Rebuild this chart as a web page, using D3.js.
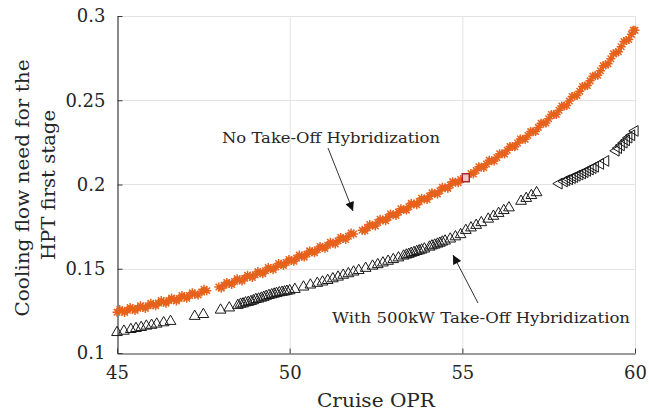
<!DOCTYPE html>
<html>
<head>
<meta charset="utf-8">
<script src="https://cdn.jsdelivr.net/npm/d3@7"></script>
<style>
  html, body { margin: 0; padding: 0; background: #fff; }
  svg { display: block; }
  text { font-family: "DejaVu Serif", "Liberation Serif", serif; fill: #262626; }
</style>
</head>
<body>
<svg id="chart" width="649" height="411"></svg>
<script>
// Cruise OPR vs. cooling flow needed for the first HPT stage
const xTicks = [45, 50, 55, 60];
const yTicks = [0.1, 0.15, 0.2, 0.25, 0.3];
const yTickLabels = ["0.1", "0.15", "0.2", "0.25", "0.3"];

// No take-off hybridization (orange asterisks)
const noHybOPR = [45.00, 45.15, 45.30, 45.45, 45.60, 45.75, 45.90, 46.05, 46.20, 46.35, 46.50, 46.65, 46.80, 46.95,
  47.10, 47.25, 47.45, 47.60, 47.95, 48.10, 48.25, 48.40, 48.55, 48.70, 48.85, 49.00, 49.15, 49.30, 49.45, 49.60,
  49.75, 49.90, 50.05, 50.20, 50.35, 50.50, 50.65, 50.80, 50.95, 51.10, 51.25, 51.40, 51.55, 51.70, 51.85, 52.10,
  52.25, 52.40, 52.55, 52.70, 52.85, 53.00, 53.15, 53.30, 53.45, 53.60, 53.75, 53.90, 54.05, 54.20, 54.35, 54.50,
  54.65, 54.80, 54.95, 55.25, 55.40, 55.55, 55.70, 55.85, 56.00, 56.15, 56.30, 56.45, 56.60, 56.75, 56.90,
  57.05, 57.20, 57.35, 57.50, 57.65, 57.80, 57.95, 58.10, 58.25, 58.40, 58.55, 58.70, 58.85, 59.00, 59.15, 59.30,
  59.45, 59.60, 59.75, 59.90, 60.00,
  45.08, 45.22, 45.38, 45.52, 45.68, 45.82, 45.98, 46.12, 46.28, 46.42, 46.58, 46.72, 46.88, 47.02, 47.18, 47.35,
  47.52, 48.02, 48.18, 48.32, 48.48, 48.62, 48.78, 48.92, 49.08, 49.22, 49.38, 49.52, 49.68, 49.82, 49.98, 50.12,
  50.28, 50.42, 50.58, 50.72, 50.88, 51.02, 51.18, 51.32, 51.48, 51.62, 51.78, 52.18, 52.32, 52.48, 52.62, 52.78,
  52.92, 53.08, 53.22, 53.38, 53.52, 53.68, 53.82, 53.98, 54.12, 54.28, 54.42, 54.58, 54.72, 54.88, 55.32, 55.48,
  55.62, 55.78, 55.92, 56.08, 56.22, 56.38, 56.52, 56.68, 56.82, 56.98, 57.12, 57.28, 57.42, 57.58, 57.72, 57.88,
  58.02, 58.18, 58.32, 58.48, 58.62, 58.78, 58.92, 59.08, 59.22, 59.38, 59.52, 59.68, 59.82, 59.95];
const noHybFlow = [0.1242, 0.1250, 0.1254, 0.1262, 0.1266, 0.1272, 0.1280, 0.1286, 0.1297, 0.1302, 0.1311, 0.1318, 0.1324, 0.1333,
  0.1341, 0.1349, 0.1362, 0.1370, 0.1392, 0.1402, 0.1412, 0.1424, 0.1434, 0.1444, 0.1455, 0.1465, 0.1477, 0.1488, 0.1501, 0.1511,
  0.1526, 0.1537, 0.1549, 0.1563, 0.1575, 0.1587, 0.1601, 0.1613, 0.1626, 0.1639, 0.1651, 0.1666, 0.1679, 0.1693, 0.1706, 0.1729,
  0.1744, 0.1758, 0.1774, 0.1789, 0.1805, 0.1820, 0.1836, 0.1851, 0.1868, 0.1884, 0.1899, 0.1914, 0.1931, 0.1947, 0.1963, 0.1980,
  0.1997, 0.2013, 0.2030, 0.2065, 0.2083, 0.2103, 0.2122, 0.2141, 0.2160, 0.2182, 0.2203, 0.2225, 0.2246, 0.2269, 0.2291,
  0.2313, 0.2339, 0.2364, 0.2390, 0.2415, 0.2441, 0.2466, 0.2495, 0.2525, 0.2554, 0.2585, 0.2615, 0.2645, 0.2675, 0.2710, 0.2746,
  0.2782, 0.2818, 0.2855, 0.2891, 0.2915,
  0.1258, 0.1240, 0.1270, 0.1252, 0.1281, 0.1264, 0.1295, 0.1280, 0.1312, 0.1295, 0.1327, 0.1309, 0.1341, 0.1325, 0.1357, 0.1344,
  0.1378, 0.1385, 0.1419, 0.1406, 0.1441, 0.1427, 0.1462, 0.1448, 0.1483, 0.1471, 0.1507, 0.1494, 0.1531, 0.1520, 0.1555, 0.1544,
  0.1581, 0.1569, 0.1606, 0.1595, 0.1632, 0.1621, 0.1657, 0.1647, 0.1685, 0.1674, 0.1712, 0.1725, 0.1763, 0.1754, 0.1794, 0.1785,
  0.1825, 0.1816, 0.1856, 0.1848, 0.1888, 0.1880, 0.1919, 0.1911, 0.1951, 0.1943, 0.1984, 0.1977, 0.2017, 0.2010, 0.2062, 0.2105,
  0.2101, 0.2144, 0.2139, 0.2183, 0.2181, 0.2226, 0.2224, 0.2270, 0.2268, 0.2314, 0.2314, 0.2364, 0.2365, 0.2415, 0.2416, 0.2466,
  0.2469, 0.2522, 0.2528, 0.2582, 0.2588, 0.2642, 0.2648, 0.2705, 0.2716, 0.2776, 0.2788, 0.2849, 0.2861, 0.2915];

// Highlighted design point on the orange branch
const designOPR = [55.1];
const designFlow = [0.2040];

// With 500 kW take-off hybridization (open triangles)
const hybOPR = [45.00, 45.20, 45.40, 45.55, 45.70, 45.85, 46.00, 46.15, 46.35, 46.55, 47.25, 47.50, 48.00, 48.25,
  48.50, 48.65, 48.80, 48.95, 49.10, 49.25, 49.40, 49.55, 49.70, 49.85, 50.00, 50.15, 50.40, 50.60, 50.80, 50.95,
  51.10, 51.25, 51.40, 51.55, 51.70, 51.85, 52.00, 52.20, 52.40, 52.55, 52.70, 52.85, 53.00, 53.15, 53.30, 53.45,
  53.60, 53.75, 53.90, 54.05, 54.20, 54.35, 54.50, 54.65, 54.80, 54.95, 55.10, 55.25, 55.40, 55.55, 55.75, 55.90,
  56.05, 56.20, 56.35, 56.70, 56.85, 57.00, 57.15, 57.80, 57.95, 58.10, 58.25, 58.40, 58.55, 58.70, 58.85, 59.00,
  59.15, 59.45, 59.60, 59.75, 59.90, 60.00,
  48.58, 48.72, 48.88, 49.02, 49.18, 49.32, 49.48, 49.62, 49.78, 49.92, 53.38, 53.52, 53.68, 53.82, 54.12, 54.28,
  54.42, 58.02, 58.18, 58.32, 58.48, 58.62, 58.78, 59.52, 59.68, 59.82];
const hybFlow = [0.1122, 0.1130, 0.1140, 0.1146, 0.1152, 0.1160, 0.1165, 0.1172, 0.1180, 0.1188, 0.1218, 0.1229, 0.1255, 0.1268,
  0.1283, 0.1292, 0.1301, 0.1311, 0.1321, 0.1331, 0.1342, 0.1350, 0.1358, 0.1363, 0.1370, 0.1378, 0.1392, 0.1404, 0.1414, 0.1422,
  0.1431, 0.1441, 0.1451, 0.1462, 0.1471, 0.1481, 0.1490, 0.1503, 0.1516, 0.1525, 0.1535, 0.1545, 0.1555, 0.1565, 0.1576, 0.1586,
  0.1597, 0.1607, 0.1618, 0.1629, 0.1641, 0.1652, 0.1665, 0.1677, 0.1690, 0.1703, 0.1728, 0.1743, 0.1758, 0.1774, 0.1795, 0.1812,
  0.1829, 0.1846, 0.1862, 0.1901, 0.1918, 0.1935, 0.1952, 0.2005, 0.2018, 0.2031, 0.2044, 0.2059, 0.2073, 0.2089, 0.2105, 0.2122,
  0.2140, 0.2200, 0.2232, 0.2262, 0.2292, 0.2318,
  0.1290, 0.1298, 0.1306, 0.1318, 0.1326, 0.1337, 0.1346, 0.1354, 0.1361, 0.1367, 0.1582, 0.1592, 0.1603, 0.1612, 0.1636, 0.1647,
  0.1659, 0.2025, 0.2038, 0.2052, 0.2066, 0.2081, 0.2097, 0.2216, 0.2248, 0.2278];

const svg = d3.select("#chart");
const m = { left: 117, right: 635, top: 16, bottom: 353 };

const x = d3.scaleLinear().domain([45, 60]).range([m.left, m.right]);
const y = d3.scaleLinear().domain([0.1, 0.3]).range([m.bottom, m.top]);

// grid
const grid = svg.append("g").attr("stroke", "#e3e3e3").attr("stroke-width", 1);
grid.selectAll("line.gx").data(xTicks.slice(1)).join("line")
  .attr("x1", d => x(d) + 0.5).attr("x2", d => x(d) + 0.5)
  .attr("y1", m.top).attr("y2", m.bottom);
grid.selectAll("line.gy").data(yTicks.slice(1)).join("line")
  .attr("x1", m.left).attr("x2", m.right)
  .attr("y1", d => Math.round(y(d)) + 0.5).attr("y2", d => Math.round(y(d)) + 0.5);

// axes (inward ticks)
const xAxis = d3.axisBottom(x).tickValues(xTicks).tickSizeInner(-5).tickSizeOuter(0).tickPadding(13);
const yAxis = d3.axisLeft(y).tickValues(yTicks).tickFormat((d, i) => yTickLabels[i])
  .tickSizeInner(-5).tickSizeOuter(0).tickPadding(12);

const gx = svg.append("g").attr("transform", `translate(0,${m.bottom + 0.5})`).call(xAxis);
const gy = svg.append("g").attr("transform", `translate(${m.left + 0.5},0)`).call(yAxis);
[gx, gy].forEach(g => {
  g.select(".domain").attr("stroke", "#3a3a3a").attr("stroke-width", 1.2);
  g.selectAll(".tick line").attr("stroke", "#3a3a3a");
  g.selectAll(".tick text").attr("font-family", "DejaVu Serif, serif")
    .attr("font-size", 18).attr("fill", "#262626");
});
gx.selectAll(".tick text").attr("dy", "0.71em");

// orange asterisks
const ast = svg.append("g").attr("stroke", "#e6621c").attr("stroke-width", 1.5).attr("fill", "none");
const r = 4.5;
const astPath = `M${-r},0L${r},0M0,${-r}L0,${r}M${-r*0.72},${-r*0.72}L${r*0.72},${r*0.72}M${-r*0.72},${r*0.72}L${r*0.72},${-r*0.72}`;
ast.selectAll("path").data(noHybOPR.map((v, i) => [v, noHybFlow[i]])).join("path")
  .attr("transform", d => `translate(${x(d[0])},${y(d[1])})`)
  .attr("d", astPath);

// highlighted design point
svg.append("g").selectAll("rect").data(designOPR.map((v, i) => [v, designFlow[i]])).join("rect")
  .attr("x", d => x(d[0]) - 3.5).attr("y", d => y(d[1]) - 4)
  .attr("width", 7).attr("height", 8)
  .attr("fill", "#f3c7c0").attr("stroke", "#b5222c").attr("stroke-width", 1.5);

// open triangles
const tri = d3.symbol().type(d3.symbolTriangle).size(50);
svg.append("g").attr("fill", "none").attr("stroke", "#1a1a1a").attr("stroke-width", 1)
  .selectAll("path").data(hybOPR.map((v, i) => [v, hybFlow[i]])).join("path")
  .attr("transform", d => `translate(${x(d[0])},${y(d[1])}) rotate(${d[0] >= 57.7 ? -90 : 0})`)
  .attr("d", tri);

// annotations
const defs = svg.append("defs");
defs.append("marker").attr("id", "arrow").attr("viewBox", "0 0 10 10")
  .attr("refX", 10).attr("refY", 5).attr("markerWidth", 11).attr("markerHeight", 9)
  .attr("markerUnits", "userSpaceOnUse").attr("orient", "auto")
  .append("path").attr("d", "M0,0L10,5L0,10Z").attr("fill", "#111");

svg.append("line").attr("x1", 328).attr("y1", 148).attr("x2", 353).attr("y2", 211)
  .attr("stroke", "#333").attr("stroke-width", 1).attr("marker-end", "url(#arrow)");
svg.append("line").attr("x1", 478).attr("y1", 303).attr("x2", 453).attr("y2", 255)
  .attr("stroke", "#333").attr("stroke-width", 1).attr("marker-end", "url(#arrow)");

svg.append("text").attr("x", 222).attr("y", 143).attr("font-size", 15.5)
  .attr("textLength", 218).attr("lengthAdjust", "spacingAndGlyphs")
  .text("No Take-Off Hybridization");
svg.append("text").attr("x", 332).attr("y", 323).attr("font-size", 15.5)
  .attr("textLength", 298).attr("lengthAdjust", "spacingAndGlyphs")
  .text("With 500kW Take-Off Hybridization");

// axis titles
svg.append("text").attr("x", 376).attr("y", 407).attr("text-anchor", "middle").attr("font-size", 18.5)
  .attr("textLength", 118).attr("lengthAdjust", "spacingAndGlyphs")
  .text("Cruise OPR");
svg.append("text").attr("transform", "translate(29,188) rotate(-90)").attr("text-anchor", "middle")
  .attr("font-size", 18.5).attr("textLength", 257).attr("lengthAdjust", "spacingAndGlyphs")
  .text("Cooling flow need for the");
svg.append("text").attr("transform", "translate(55,185) rotate(-90)").attr("text-anchor", "middle")
  .attr("font-size", 18.5).attr("textLength", 150).attr("lengthAdjust", "spacingAndGlyphs")
  .text("HPT first stage");
</script>
</body>
</html>
